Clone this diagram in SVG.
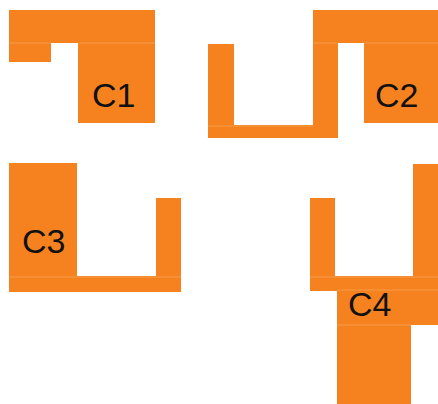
<svg xmlns="http://www.w3.org/2000/svg" width="438" height="404" viewBox="0 0 438 404">
<style>
.shape{fill:#F5821F;stroke:none}
.seam{stroke:#FBB97A;stroke-width:0.8;fill:none;opacity:0.6}
.lbl{font-family:"Liberation Sans",Arial,sans-serif;font-size:34px;fill:#111}
</style>
<rect width="438" height="404" fill="#ffffff"/>
<g id="C1">
<path class="shape" d="M9,10 H155 V123 H78 V43 H51 V62 H9 Z"/>
<path class="seam" d="M9,43 H51 M78,43 H155"/>
<text class="lbl" x="92" y="107">C1</text>
</g>
<g id="C2">
<path class="shape" d="M208,44 H234 V125 H313 V10 H438 V123 H364 V43 H338 V138 H208 Z"/>
<path class="seam" d="M313,43 H338 M364,43 H438 M208,126 H313"/>
<text class="lbl" x="375" y="107">C2</text>
</g>
<g id="C3">
<path class="shape" d="M9,163 H77 V276 H156 V198 H181 V292 H9 Z"/>
<path class="seam" d="M9,277 H181"/>
<text class="lbl" x="22" y="253">C3</text>
</g>
<g id="C4">
<path class="shape" d="M310,198 H335 V276 H413 V164 H438 V325 H411 V404 H337 V291 H310 Z"/>
<path class="seam" d="M310,277 H438 M337,290 H438 M337,325 H411"/>
<text class="lbl" x="348" y="316">C4</text>
</g>
<g id="connectors"></g>
</svg>
